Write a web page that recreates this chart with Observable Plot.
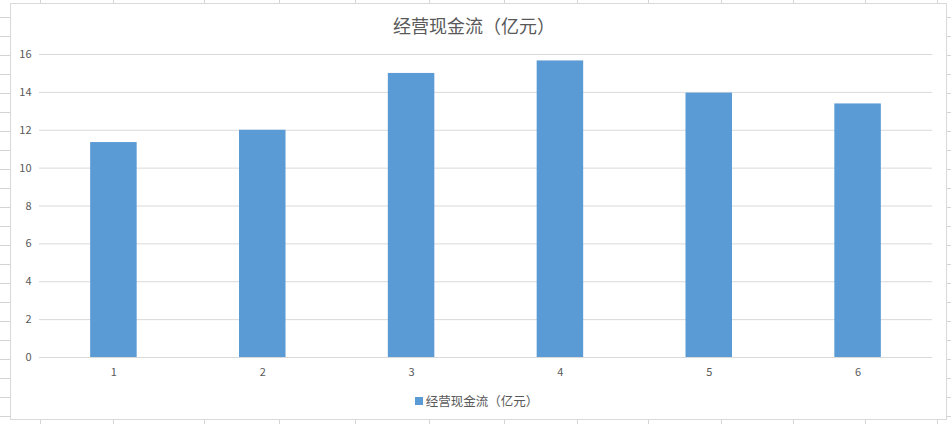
<!DOCTYPE html>
<html>
<head>
<meta charset="utf-8">
<script src="https://cdn.jsdelivr.net/npm/d3@7"></script>
<script src="https://cdn.jsdelivr.net/npm/@observablehq/plot@0.6"></script>
<style>
  html, body { margin: 0; padding: 0; background: #fff; }
  #page { position: relative; width: 951px; height: 424px; overflow: hidden; background: #fff; }
  .vline { position: absolute; top: 0; width: 1px; height: 424px; background: #d4d4d4; }
  .hline { position: absolute; left: 0; height: 1px; width: 951px; background: #d4d4d4; }
  #chart { position: absolute; left: 10px; top: 3px; width: 937px; height: 417px; box-sizing: border-box;
           border: 1px solid #d9d9d9; background: #fff; font-family: "Noto Sans CJK SC", sans-serif; }
  #title { position: absolute; left: 0; top: 9px; width: 100%; text-align: center; font-size: 18px;
           color: #595959; line-height: 24px; padding-right: 9px; box-sizing: border-box; }
  #plot { position: absolute; left: 0; top: 36px; }
  #legend { position: absolute; left: 0; top: 387px; width: 100%; display: flex; justify-content: center;
            align-items: center; font-size: 12.5px; color: #595959; padding-right: 4px; box-sizing: border-box; }
  #legend .sw { width: 8px; height: 8px; background: #5b9bd5; margin-right: 3px; }
</style>
</head>
<body>
<div id="page">
  <div id="chart">
    <div id="title"></div>
    <div id="plot"></div>
    <div id="legend"><div class="sw"></div><span id="legtext"></span></div>
  </div>
</div>
<script>
const title = "经营现金流（亿元）";
const seriesName = "经营现金流（亿元）";
const categories = ["1", "2", "3", "4", "5", "6"];
const values = [11.35, 12.0, 15.0, 15.66, 13.96, 13.39];
const yTicks = [0, 2, 4, 6, 8, 10, 12, 14, 16];

// spreadsheet cell grid behind the chart
const page = document.getElementById("page");
const colEdges = [40, 113, 204, 279, 355, 429, 504, 577, 648, 721, 793, 865, 937];
for (const x of colEdges) {
  const d = document.createElement("div");
  d.className = "vline"; d.style.left = x + "px";
  page.insertBefore(d, page.firstChild);
}
for (let y = 17; y < 424; y += 19) {
  const d = document.createElement("div");
  d.className = "hline"; d.style.top = y + "px";
  page.insertBefore(d, page.firstChild);
}

document.getElementById("title").textContent = title;
document.getElementById("legtext").textContent = seriesName;

const data = categories.map((c, i) => ({category: c, value: values[i]}));

const chart = Plot.plot({
  width: 935,
  height: 346,
  marginLeft: 28,
  marginRight: 14,
  marginTop: 14,
  marginBottom: 29,
  style: {fontFamily: "'Noto Sans CJK SC', sans-serif", fontSize: "11px", color: "#595959", background: "transparent"},
  x: {type: "band", domain: categories, paddingInner: 0.6875, paddingOuter: 0.34375, round: false, label: null},
  y: {domain: [0, 16], label: null},
  marks: [
    Plot.ruleY(yTicks, {stroke: "#d9d9d9", strokeWidth: 1}),
    Plot.barY(data, {x: "category", y: "value", fill: "#5b9bd5"}),
    Plot.axisX({tickSize: 0, tickPadding: 11, fontSize: 11, fill: "#595959"}),
    Plot.axisY({ticks: yTicks, tickSize: 0, tickPadding: 8, fontSize: 11, fill: "#595959", tickFormat: d => String(d)})
  ]
});
document.getElementById("plot").appendChild(chart);
</script>
</body>
</html>
